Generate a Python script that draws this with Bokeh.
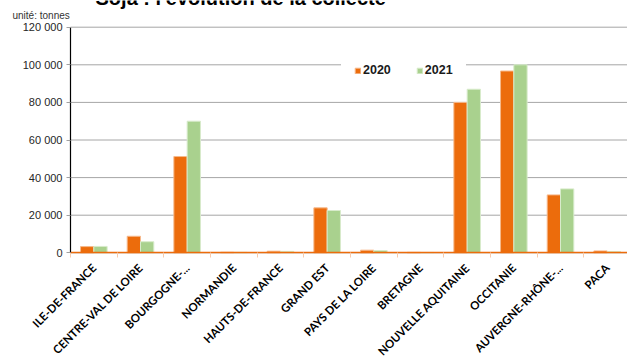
import numpy as np
from bokeh.plotting import figure
from bokeh.models import (ColumnDataSource, Range1d, FixedTicker, Legend, LegendItem,
                          Label)
from bokeh.transform import dodge
from bokeh.embed import file_html
from bokeh.resources import INLINE

categories = ["ILE-DE-FRANCE", "CENTRE-VAL DE LOIRE", "BOURGOGNE-...", "NORMANDIE",
              "HAUTS-DE-FRANCE", "GRAND EST", "PAYS DE LA LOIRE", "BRETAGNE",
              "NOUVELLE AQUITAINE", "OCCITANIE", "AUVERGNE-RHÔNE-...", "PACA"]
values_2020 = [3300, 8800, 51200, 300, 850, 23900, 1400, 250, 80000, 96700, 30800, 1000]
values_2021 = [3400, 5900, 70000, 250, 750, 22500, 1200, 200, 87000, 100000, 34000, 700]
y_ticks = [0, 20000, 40000, 60000, 80000, 100000, 120000]
y_tick_labels = ["0", "20 000", "40 000", "60 000", "80 000", "100 000", "120 000"]
title_text = "Soja : l'évolution de la collecte"
unit_text = "unité: tonnes"

ORANGE = "#EC6C0C"
GREEN = "#A9D18E"

n = len(categories)
pos = np.arange(n) + 0.5
src = ColumnDataSource(dict(x=pos, v20=values_2020, v21=values_2021))
grid_src = ColumnDataSource(dict(y=y_ticks))

W, H = 627, 360
CAT_PX = 46.667            # pixels per category
X0_PX = 70                 # y axis position from left
Y0_PX, YTOP_PX = 252.3, 26.7  # pixel rows of 0 and 120 000
PX_PER_UNIT = (Y0_PX - YTOP_PX) / 120000

p = figure(width=W, height=H, output_backend="svg", toolbar_location=None,
           x_range=Range1d(-X0_PX / CAT_PX, (W - X0_PX) / CAT_PX),
           y_range=Range1d(-(H - Y0_PX) / PX_PER_UNIT, 120000 + YTOP_PX / PX_PER_UNIT),
           min_border_left=0, min_border_right=0, min_border_top=0, min_border_bottom=0)
p.outline_line_color = None
p.background_fill_color = "white"

# horizontal grid lines (from tick list)
p.segment(x0=0, x1=n, y0="y", y1="y", source=grid_src, line_color="#A6A6A6", line_width=1)
p.xgrid.grid_line_color = None
p.ygrid.grid_line_color = None

w = 0.285
r20 = p.vbar(x=dodge("x", -w / 2, range=p.x_range), top="v20", width=w, source=src,
             fill_color=ORANGE, line_color="#F6B98C", line_width=1)
r21 = p.vbar(x=dodge("x", w / 2, range=p.x_range), top="v21", width=w, source=src,
             fill_color=GREEN, line_color="#D8EBCB", line_width=1)

# y axis, pinned at x = 0
yax = p.yaxis[0]
yax.fixed_location = 0
yax.bounds = (0, 120000)
yax.ticker = FixedTicker(ticks=y_ticks)
yax.major_label_overrides = {t: l for t, l in zip(y_ticks, y_tick_labels)}
yax.axis_line_color = "black"
yax.axis_line_width = 1.2
yax.major_tick_out = 4
yax.major_tick_in = 0
yax.major_tick_line_color = "#A0A0A0"
yax.minor_tick_line_color = None
yax.major_label_standoff = 4
yax.major_label_text_font = "Liberation Sans"
yax.major_label_text_font_size = "11px"
yax.major_label_text_color = "#262626"

# x axis, pinned at y = 0
xax = p.xaxis[0]
xax.fixed_location = 0
xax.bounds = (0, n)
xax.ticker = FixedTicker(ticks=list(pos), minor_ticks=list(range(n + 1)))
xax.major_label_overrides = {float(x): c for x, c in zip(pos, categories)}
xax.axis_line_color = ORANGE
xax.axis_line_width = 1.5
xax.major_tick_line_color = None
xax.minor_tick_out = 5
xax.minor_tick_in = 0
xax.minor_tick_line_color = "#F8CBAD"
xax.major_label_orientation = np.pi / 4
xax.major_label_standoff = 7
xax.major_label_text_font = "Lato"
xax.major_label_text_font_style = "bold"
xax.major_label_text_font_size = "11.4px"
xax.major_label_text_color = "black"

legend = Legend(items=[LegendItem(label="2020", renderers=[r20]),
                       LegendItem(label="2021", renderers=[r21])],
                orientation="horizontal", location=(341, 270),
                glyph_width=7, glyph_height=7, label_standoff=2, spacing=25,
                padding=12, margin=0, border_line_color="white", border_line_alpha=1,
                background_fill_color="white", background_fill_alpha=1,
                label_text_font="Liberation Sans", label_text_font_style="bold",
                label_text_font_size="12.5px", label_text_color="#1a1a1a")
p.add_layout(legend, "center")

p.add_layout(Label(x=-1.243, y=126230, text=unit_text, text_font="Liberation Sans",
                   text_font_size="10px", text_color="#333333", text_baseline="middle"))
p.add_layout(Label(x=0.536, y=135550, text=title_text, text_font="Liberation Sans",
                   text_font_style="bold", text_font_size="20px", text_color="black",
                   text_baseline="alphabetic"))

open("out.html", "w").write(file_html(p, INLINE))
